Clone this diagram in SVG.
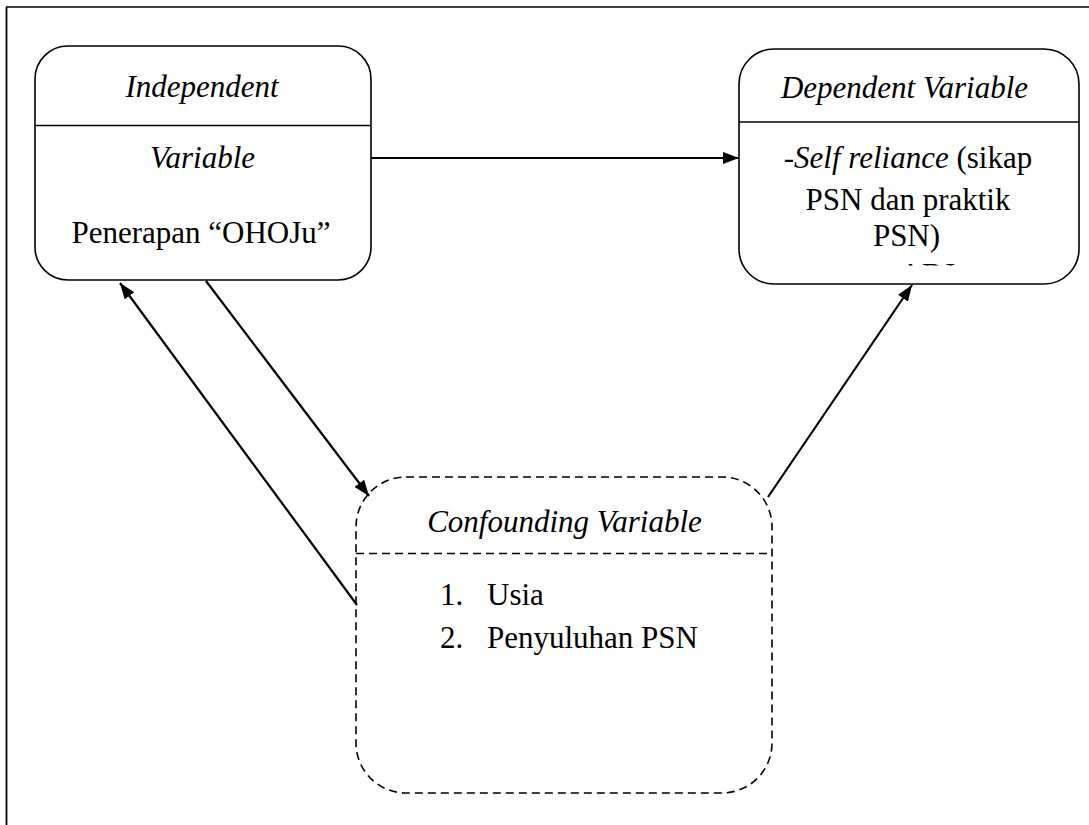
<svg xmlns="http://www.w3.org/2000/svg" width="1089" height="825" viewBox="0 0 1089 825">
<style>
.box{fill:#fff;stroke:#000;stroke-width:1.6}
.dash{fill:#fff;stroke:#000;stroke-width:1.6;stroke-dasharray:8 5}
.sep{stroke:#000;stroke-width:1.6}
.sepd{stroke:#000;stroke-width:1.6;stroke-dasharray:8 5}
.t{font-family:"Liberation Serif","Times New Roman","DejaVu Serif",serif;font-size:31px;fill:#000}
.i{font-style:italic}
.c{text-anchor:middle}
.conn line{stroke:#000;stroke-width:2.2}
</style>
<defs>
<marker id="ah" viewBox="0 0 16 12" refX="16" refY="6" markerWidth="16" markerHeight="12" markerUnits="userSpaceOnUse" orient="auto">
<path d="M0,0 L16,6 L0,12 Z" fill="#000"/>
</marker>
<clipPath id="clipDep"><rect x="740" y="250" width="330" height="15.5"/></clipPath>
</defs>
<rect width="1089" height="825" fill="#fff"/>
<g id="frame">
<line x1="6" y1="7" x2="1089" y2="7" stroke="#000" stroke-width="1.5"/>
<line x1="6.5" y1="7" x2="6.5" y2="825" stroke="#000" stroke-width="1.8"/>
</g>
<g id="independent">
<rect class="box" x="35" y="46" width="336" height="234" rx="33" ry="33"/>
<line class="sep" x1="35" y1="125.5" x2="371" y2="125.5"/>
<text class="t i c" x="202" y="97">Independent</text>
<text class="t i c" x="202.5" y="168">Variable</text>
<text class="t c" x="201" y="243">Penerapan “OHOJu”</text>
</g>
<g id="dependent">
<rect class="box" x="739" y="49" width="340" height="235" rx="35" ry="35"/>
<line class="sep" x1="739" y1="122" x2="1079" y2="122"/>
<text class="t i c" x="904.5" y="98">Dependent Variable</text>
<text class="t c" x="908" y="168">-<tspan class="i">Self reliance</tspan> (sikap</text>
<text class="t c" x="908" y="210">PSN dan praktik</text>
<text class="t c" x="906.5" y="246">PSN)</text>
<text class="t c" x="922" y="285" clip-path="url(#clipDep)">-ABJ</text>
</g>
<g id="confounding">
<rect class="dash" x="356" y="477" width="416" height="316" rx="50" ry="50"/>
<line class="sepd" x1="356" y1="553.5" x2="772" y2="553.5"/>
<text class="t i c" x="564.5" y="532">Confounding Variable</text>
<text class="t" x="440" y="605">1.</text>
<text class="t" x="487" y="605">Usia</text>
<text class="t" x="440" y="648">2.</text>
<text class="t" x="487" y="648">Penyuluhan PSN</text>
</g>
<g id="connectors" class="conn">
<line x1="371" y1="158" x2="739" y2="158" marker-end="url(#ah)"/>
<line x1="206" y1="281" x2="369" y2="496" marker-end="url(#ah)"/>
<line x1="357" y1="605" x2="120" y2="283" marker-end="url(#ah)"/>
<line x1="768" y1="497" x2="912" y2="285" marker-end="url(#ah)"/>
</g>
</svg>
